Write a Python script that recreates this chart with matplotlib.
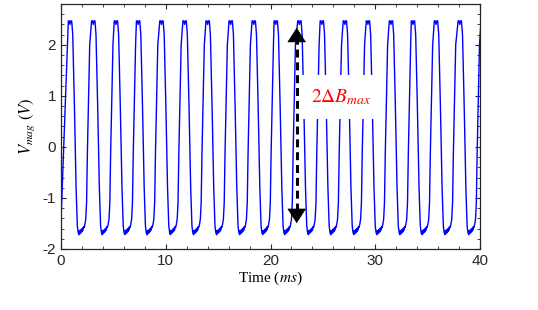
import matplotlib.pyplot as plt
import numpy as np

# peak centres (ms)
peak_times = [0.86, 3.08, 5.24, 7.36, 9.59, 11.8, 14.0, 16.2, 18.4, 20.5,
              22.76, 24.9, 27.1, 29.3, 31.5, 33.6, 35.8, 38.07, 40.26]

# one cycle of the trace, offsets from the peak centre (ms) and volts
cyc_off = [-0.16, -0.08, 0.00, 0.08, 0.16, 0.26, 0.42, 0.58, 0.70, 0.78,
           0.85, 0.90, 0.95, 1.00, 1.05, 1.10, 1.15, 1.20, 1.25, 1.30,
           1.35, 1.42, 1.50, 1.58, 1.66, 1.88]
cyc_v = [2.47, 2.47, 2.40, 2.47, 2.47, 2.20, 0.80, -0.80, -1.55, -1.68,
         -1.72, -1.64, -1.70, -1.63, -1.68, -1.61, -1.66, -1.59, -1.63, -1.56,
         -1.58, -1.52, -1.42, -1.10, -0.10, 2.00]

# start of the record
lead_t = [0.0]
lead_v = [-1.45]

# arrow ends and label
arrow_x = 22.5
arrow_top = 2.39
arrow_bot = -1.55
label_txt = r'$2\Delta B_{max}$'

t = list(lead_t)
v = list(lead_v)
for tc in peak_times:
    for o, y in zip(cyc_off, cyc_v):
        t.append(tc + o)
        v.append(y)
t = np.array(t)
v = np.array(v)

plt.rcParams['mathtext.fontset'] = 'stix'
plt.rcParams['font.family'] = ['Liberation Sans', 'DejaVu Sans']

fig = plt.figure(figsize=(5.38, 3.10), dpi=100)
ax = fig.add_axes([0.1134, 0.197, 0.7788, 0.790])

ax.plot(t, v, color='#0000ff', lw=1.0, zorder=2)

# dashed shaft + two heads
ax.plot([arrow_x, arrow_x], [arrow_bot + 0.3, arrow_top - 0.3], color='k',
        lw=2.2, linestyle=(0, (2.6, 1.6)), zorder=4)
for y0, y1 in [(arrow_top - 0.35, arrow_top), (arrow_bot + 0.35, arrow_bot)]:
    ax.annotate('', xy=(arrow_x, y1), xytext=(arrow_x, y0),
                arrowprops=dict(arrowstyle='-|>,head_length=0.65,head_width=0.42',
                                color='k', lw=0.5, mutation_scale=15),
                zorder=5)

ax.text(23.9, 0.98, label_txt, color='red', fontsize=14, va='center', ha='left',
        zorder=6, bbox=dict(facecolor='white', edgecolor='none', pad=9))

ax.set_xlim(0, 40)
ax.set_ylim(-2, 2.8)
ax.set_xticks([0, 10, 20, 30, 40])
ax.set_yticks([-2, -1, 0, 1, 2])
ax.set_xticks(np.arange(0, 41, 2), minor=True)
ax.set_yticks(np.arange(-2, 2.81, 0.2), minor=True)
ax.set_yticklabels(['-2', '-1', '0', '1', '2'])
ax.tick_params(which='both', direction='in', top=True, right=True,
               colors='#262626', labelsize=11)
ax.tick_params(which='major', length=3.5, width=0.8)
ax.tick_params(which='minor', length=2, width=0.6)
for s in ax.spines.values():
    s.set_color('#262626')
    s.set_linewidth(0.9)

ax.set_xlabel(r'Time ($\it{ms}$)', family='Liberation Serif', fontsize=11,
              labelpad=1)
ax.set_ylabel(r'$V_{mag}\ (V)$', fontsize=12, labelpad=4)

fig.savefig('out.png', dpi=100)
